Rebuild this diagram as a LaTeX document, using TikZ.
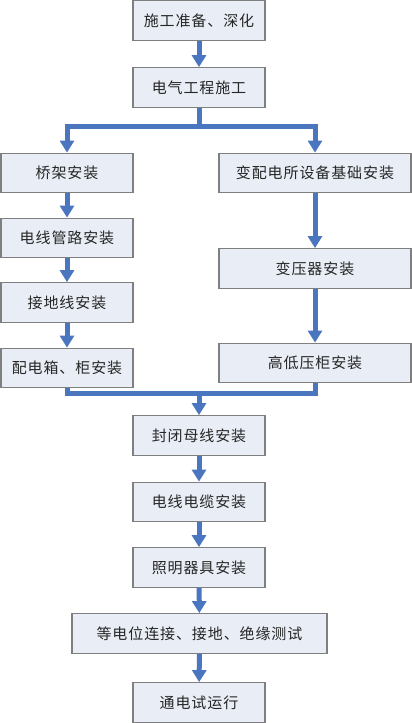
\documentclass[tikz,border=0pt]{standalone}
\usepackage{fontspec}
\newfontfamily\cjk[LetterSpace=6]{Noto Sans CJK SC}
\usetikzlibrary{arrows.meta}
\definecolor{boxfill}{HTML}{E9EEF6}
\definecolor{boxline}{HTML}{7F7F7F}
\definecolor{arrowblue}{HTML}{4A76C0}
\begin{document}
\begin{tikzpicture}[x=1pt,y=-1pt,
  stepbox/.style={draw=boxline,line width=1.3pt,fill=boxfill,minimum height=39.5pt,inner sep=0pt,font=\cjk\fontsize{15}{18}\selectfont,text=black!85},
  narrow/.style={stepbox,minimum width=132pt},
  wide/.style={stepbox,minimum width=192pt},
  conn/.style={draw=arrowblue,line width=5pt},
  flow/.style={conn,-{Triangle[width=14pt,length=12pt]}}]
\useasboundingbox (0,0) rectangle (412,723);
\fill[white] (0,0) rectangle (412,723);
\node[narrow] (b1) at (199,20.5) {施工准备、深化};
\node[narrow] (b2) at (199,87.5) {电气工程施工};
\node[narrow] (l1) at (67,173) {桥架安装};
\node[wide] (r1) at (315,173) {变配电所设备基础安装};
\node[narrow] (l2) at (67,238) {电线管路安装};
\node[narrow] (l3) at (67,302.5) {接地线安装};
\node[narrow] (l4) at (67,368) {配电箱、柜安装};
\node[wide] (r2) at (315,268.5) {变压器安装};
\node[wide] (r3) at (315,363) {高低压柜安装};
\node[narrow] (b3) at (199,435.5) {封闭母线安装};
\node[narrow] (b4) at (199,502) {电线电缆安装};
\node[narrow] (b5) at (199,567.5) {照明器具安装};
\node[stepbox,minimum width=255pt] (b6) at (199.5,633.5) {等电位连接、接地、绝缘测试};
\node[narrow] (b7) at (199,702.5) {通电试运行};
\coordinate (j1) at (199,126);
\coordinate (j2) at (199,393);
\draw[flow] (b1) -- (b2);
\draw[conn] (b2.south) -- (j1);
\draw[flow] (j1) -| (l1.north);
\draw[flow] (j1) -| (r1.north);
\draw[flow] (l1) -- (l2);
\draw[flow] (l2) -- (l3);
\draw[flow] (l3) -- (l4);
\draw[flow] (r1) -- (r2);
\draw[flow] (r2) -- (r3);
\draw[conn] (l4.south) |- (j2);
\draw[conn] (r3.south) |- (j2);
\draw[flow] (j2) -- (b3.north);
\draw[flow] (b3) -- (b4);
\draw[flow] (b4) -- (b5);
\draw[flow] (b5) -- (b6);
\draw[flow] (b6) -- (b7);
\end{tikzpicture}
\end{document}
